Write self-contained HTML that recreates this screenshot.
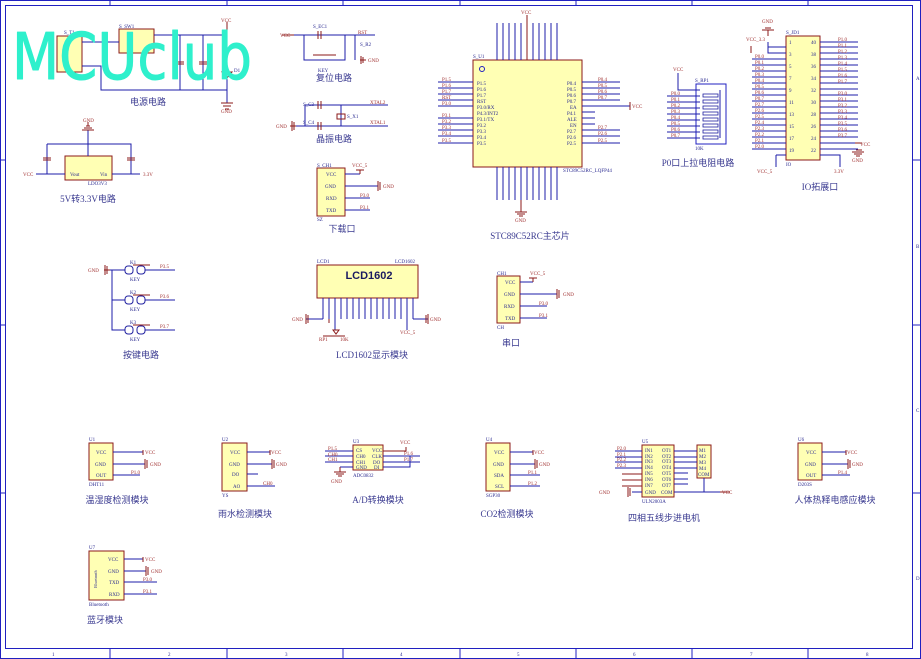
<!DOCTYPE html>
<html><head><meta charset="utf-8"><style>
html,body{margin:0;padding:0;background:#fff;}
svg{display:block;font-family:"Liberation Serif","Noto Serif CJK SC",serif;}
.w{stroke:#1c1ca8;stroke-width:1;fill:none}
.r{stroke:#8b1a1a;stroke-width:1;fill:none}
.b{stroke:#8b1a1a;stroke-width:1;fill:#ffffb4}
.n{fill:#a03030;font-size:5px}
.p{fill:#2a2a90;font-size:5px}
.t{fill:#3a3a90;font-size:9px;font-family:"Liberation Serif","Noto Sans CJK SC",sans-serif}
.f{stroke:#2020c0;stroke-width:1;fill:none}
</style></head><body>
<svg width="921" height="659" viewBox="0 0 921 659">
<!-- frame -->
<rect x="0.5" y="0.5" width="920" height="658" fill="none" stroke="#2020c0"/>
<rect x="5.5" y="5.5" width="907" height="643" class="f"/>
<path class="f" d="M110 0V5M227 0V5M343 0V5M460 0V5M576 0V5M692 0V5M808 0V5M110 649V659M227 649V659M343 649V659M460 649V659M576 649V659M692 649V659M808 649V659M0 160H5M0 325H5M0 493H5M913 160H921M913 325H921M913 493H921"/>
<g class="p" font-size="5"><text x="916" y="80">A</text><text x="916" y="248">B</text><text x="916" y="412">C</text><text x="916" y="580">D</text>
<text x="52" y="656">1</text><text x="168" y="656">2</text><text x="285" y="656">3</text><text x="400" y="656">4</text><text x="517" y="656">5</text><text x="633" y="656">6</text><text x="750" y="656">7</text><text x="866" y="656">8</text></g>

<!-- power circuit -->
<rect x="57" y="36" width="25" height="36" class="b"/>
<rect x="119" y="29" width="35" height="24" class="b"/>
<path class="w" d="M82 42H119M82 66H101V90H227M154 35H227V90M180 35V90M203 35V90M227 62V103"/>
<path class="r" d="M176 62H184M176 64H184M199 62H207M199 64H207M221 103H233M223 106H231M225 109H229M227 22V35"/>
<path class="r" d="M222 72L232 72L227 78Z"/>
<text x="221" y="22" class="n">VCC</text><text x="221" y="113" class="n">GND</text>
<text x="119" y="28" class="p">S_SW1</text><text x="64" y="34" class="p">S_T1</text><text x="234" y="72" class="p">D1</text>
<text x="148" y="105" class="t" text-anchor="middle">电源电路</text>

<!-- reset -->
<path class="w" d="M294 35H375M304 35V60H345V35M355 35V60"/>
<path class="r" d="M282 35H294M318 31V39M321 31V39M360 60H366M361 56V64M363 57V63"/>
<path class="r" d="M313 55H336"/>
<text x="280" y="37" class="n">VCC</text><text x="358" y="34" class="n">RST</text><text x="368" y="62" class="n">GND</text>
<text x="313" y="28" class="p">S_EC1</text><text x="360" y="46" class="p">S_R2</text><text x="318" y="72" class="p">KEY</text>
<text x="334" y="81" class="t" text-anchor="middle">复位电路</text>

<!-- crystal -->
<path class="w" d="M305 105H388M295 126H388M305 105V126M341 105V126"/>
<path class="r" d="M318 101V109M321 101V109M318 122V130M321 122V130M337 114H345V119H337Z M290 126H296M292 121V131M294 122V130"/>
<text x="370" y="104" class="n">XTAL2</text><text x="370" y="124" class="n">XTAL1</text><text x="276" y="128" class="n">GND</text>
<text x="303" y="106" class="p">S_C3</text><text x="303" y="124" class="p">S_C4</text><text x="347" y="118" class="p">S_X1</text>
<text x="334" y="142" class="t" text-anchor="middle">晶振电路</text>

<!-- LDO -->
<rect x="65" y="156" width="47" height="24" class="b"/>
<path class="w" d="M47 144H131V174M47 144V174M88 130V156M36 174H65M112 174H140"/>
<path class="r" d="M82 130H94M84 128H92M86 126H90M88 122V126M43 158H51M43 160H51M127 158H135M127 160H135"/>
<text x="23" y="176" class="n">VCC</text><text x="143" y="176" class="n">3.3V</text><text x="83" y="122" class="n">GND</text>
<text x="70" y="176" class="p">Vout</text><text x="100" y="176" class="p">Vin</text><text x="88" y="185" class="p">LDO3V3</text>
<text x="88" y="202" class="t" text-anchor="middle">5V转3.3V电路</text>

<!-- download -->
<rect x="317" y="168" width="28" height="48" class="b"/>
<path class="w" d="M345 174H360M345 186H378M345 198H370M345 210H370"/>
<path class="r" d="M360 170V174M356 170H364M378 181V191M380 182V190"/>
<g class="p"><text x="326" y="176">VCC</text><text x="325" y="188">GND</text><text x="326" y="200">RXD</text><text x="326" y="212">TXD</text><text x="317" y="167">S_CH1</text><text x="317" y="221">SZ</text></g>
<g class="n"><text x="352" y="167">VCC_5</text><text x="383" y="188">GND</text><text x="360" y="197">P3.0</text><text x="360" y="209">P3.1</text></g>
<text x="342" y="232" class="t" text-anchor="middle">下载口</text>

<!-- MCU -->
<rect x="473" y="60" width="109" height="107" class="b"/>
<path class="w" d="M497 23V60M503 23V60M509 23V60M515 23V60M521 23V60M533 23V60M539 23V60M545 23V60M551 23V60M557 23V60
M497 167V200M503 167V200M509 167V200M515 167V200M521 167V200M527 167V200M533 167V200M539 167V200M545 167V200M551 167V200M557 167V200
M438 82H473M438 88H473M438 94H473M438 100H473M438 106H473M438 118H473M438 124H473M438 130H473M438 136H473M438 143H473
M582 82H620M582 88H620M582 94H620M582 100H620M582 106H630M582 130H620M582 136H620M582 143H620M582 112H595M582 118H595M582 124H595"/>
<path class="r" d="M527 15V60M521 200V212M515 212H527M517 214H525M519 216H523M630 102V110"/>
<text x="521" y="14" class="n">VCC</text><text x="515" y="222" class="n">GND</text><text x="632" y="108" class="n">VCC</text>
<g class="p"><text x="477" y="85">P1.5</text><text x="477" y="91">P1.6</text><text x="477" y="97">P1.7</text><text x="477" y="103">RST</text><text x="477" y="109">P3.0/RX</text><text x="477" y="115">P4.3/INT2</text><text x="477" y="121">P3.1/TX</text><text x="477" y="127">P3.2</text><text x="477" y="133">P3.3</text><text x="477" y="139">P3.4</text><text x="477" y="145">P3.5</text>
<text x="567" y="85">P0.4</text><text x="567" y="91">P0.5</text><text x="567" y="97">P0.6</text><text x="567" y="103">P0.7</text><text x="570" y="109">EA</text><text x="567" y="115">P4.1</text><text x="567" y="121">ALE</text><text x="570" y="127">EN</text><text x="567" y="133">P2.7</text><text x="567" y="139">P2.6</text><text x="567" y="145">P2.5</text>
<text x="473" y="58">S_U1</text><text x="563" y="172">STC89C52RC_LQFP44</text></g>
<g class="n"><text x="442" y="81">P1.5</text><text x="442" y="87">P1.6</text><text x="442" y="93">P1.7</text><text x="442" y="99">RST</text><text x="442" y="105">P3.0</text><text x="442" y="117">P3.1</text><text x="442" y="123">P3.2</text><text x="442" y="129">P3.3</text><text x="442" y="135">P3.4</text><text x="442" y="142">P3.5</text>
<text x="598" y="81">P0.4</text><text x="598" y="87">P0.5</text><text x="598" y="93">P0.6</text><text x="598" y="99">P0.7</text><text x="598" y="129">P2.7</text><text x="598" y="135">P2.6</text><text x="598" y="142">P2.5</text></g>
<circle cx="482" cy="69" r="2.5" fill="none" stroke="#2020c0"/>
<text x="530" y="239" class="t" text-anchor="middle">STC89C52RC主芯片</text>

<!-- RP1 -->
<rect x="696" y="84" width="30" height="60" fill="none" stroke="#2020c0"/>
<path class="w" d="M678 73V90H700M667 96H700M667 102H700M667 108H700M667 114H700M667 120H700M667 126H700M667 132H700M667 138H700M720 90V138"/>
<g fill="#fff" stroke="#2020a0" stroke-width="0.8"><rect x="703" y="94" width="15" height="3"/><rect x="703" y="100" width="15" height="3"/><rect x="703" y="106" width="15" height="3"/><rect x="703" y="112" width="15" height="3"/><rect x="703" y="118" width="15" height="3"/><rect x="703" y="124" width="15" height="3"/><rect x="703" y="130" width="15" height="3"/><rect x="703" y="136" width="15" height="3"/></g>
<text x="673" y="71" class="n">VCC</text><text x="695" y="82" class="p">S_RP1</text><text x="695" y="150" class="p">10K</text>
<g class="n"><text x="671" y="95">P0.0</text><text x="671" y="101">P0.1</text><text x="671" y="107">P0.2</text><text x="671" y="113">P0.3</text><text x="671" y="119">P0.4</text><text x="671" y="125">P0.5</text><text x="671" y="131">P0.6</text><text x="671" y="137">P0.7</text></g>
<text x="698" y="166" class="t" text-anchor="middle">P0口上拉电阻电路</text>

<!-- IO ext -->
<rect x="786" y="36" width="34" height="124" class="b"/>
<path class="w" d="M768 42V53H786M768 42V47H786M752 59H786M752 65H786M752 71H786M752 77H786M752 83H786M752 89H786M752 95H786M752 101H786M752 107H786M752 113H786M752 119H786M752 125H786M752 131H786M752 137H786M752 143H786M752 149H786M776 155H786M776 155V167
M820 42H858M820 47H858M820 53H858M820 59H858M820 65H858M820 71H858M820 77H858M820 83H858M820 89H858M820 95H858M820 101H858M820 107H858M820 113H858M820 119H858M820 125H858M820 131H858M820 137H858M820 143H858M820 149H858M820 155H840V167"/>
<path class="r" d="M768 30V36M762 30H774M765 28H771M751 46V53M855 143H862M856 150H862M852 152H864M854 154H862M856 156H860"/>
<text x="762" y="23" class="n">GND</text><text x="746" y="41" class="n">VCC_3.3</text><text x="757" y="173" class="n">VCC_5</text><text x="834" y="173" class="n">3.3V</text><text x="860" y="146" class="n">VCC</text><text x="852" y="162" class="n">GND</text>
<text x="786" y="34" class="p">S_JD1</text><text x="786" y="166" class="p">IO</text>
<g class="p" font-size="4.5"><text x="789" y="44">1</text><text x="789" y="56">3</text><text x="789" y="68">5</text><text x="789" y="80">7</text><text x="789" y="92">9</text><text x="789" y="104">11</text><text x="789" y="116">13</text><text x="789" y="128">15</text><text x="789" y="140">17</text><text x="789" y="152">19</text>
<text x="811" y="44">40</text><text x="811" y="56">38</text><text x="811" y="68">36</text><text x="811" y="80">34</text><text x="811" y="92">32</text><text x="811" y="104">30</text><text x="811" y="116">28</text><text x="811" y="128">26</text><text x="811" y="140">24</text><text x="811" y="152">22</text></g>
<g class="n"><text x="838" y="41">P1.0</text><text x="838" y="47">P1.1</text><text x="838" y="53">P1.2</text><text x="838" y="59">P1.3</text><text x="838" y="65">P1.4</text><text x="838" y="71">P1.5</text><text x="838" y="77">P1.6</text><text x="838" y="83">P1.7</text><text x="838" y="95">P3.0</text><text x="838" y="101">P3.1</text><text x="838" y="107">P3.2</text><text x="838" y="113">P3.3</text><text x="838" y="119">P3.4</text><text x="838" y="125">P3.5</text><text x="838" y="131">P3.6</text><text x="838" y="137">P3.7</text>
<text x="755" y="58">P0.0</text><text x="755" y="64">P0.1</text><text x="755" y="70">P0.2</text><text x="755" y="76">P0.3</text><text x="755" y="82">P0.4</text><text x="755" y="88">P0.5</text><text x="755" y="94">P0.6</text><text x="755" y="100">P0.7</text><text x="755" y="106">P2.7</text><text x="755" y="112">P2.6</text><text x="755" y="118">P2.5</text><text x="755" y="124">P2.4</text><text x="755" y="130">P2.3</text><text x="755" y="136">P2.2</text><text x="755" y="142">P2.1</text><text x="755" y="148">P2.0</text></g>
<text x="820" y="190" class="t" text-anchor="middle">IO拓展口</text>

<!-- keys -->
<path class="w" d="M110 270H125M112 270V330H125M112 300H125M145 270H175M145 300H175M145 330H175"/>
<path class="r" d="M104 270H110M105 265V275M107 266V274M133 265H150M133 295H150M133 325H150"/>
<g fill="none" stroke="#2020a0"><rect x="125" y="266" width="8" height="8" rx="3"/><rect x="137" y="266" width="8" height="8" rx="3"/><rect x="125" y="296" width="8" height="8" rx="3"/><rect x="137" y="296" width="8" height="8" rx="3"/><rect x="125" y="326" width="8" height="8" rx="3"/><rect x="137" y="326" width="8" height="8" rx="3"/></g>
<g class="n"><text x="88" y="272">GND</text><text x="160" y="268">P3.5</text><text x="160" y="298">P3.6</text><text x="160" y="328">P3.7</text></g>
<g class="p"><text x="130" y="264">K1</text><text x="130" y="281">KEY</text><text x="130" y="294">K2</text><text x="130" y="311">KEY</text><text x="130" y="324">K3</text><text x="130" y="341">KEY</text></g>
<text x="141" y="358" class="t" text-anchor="middle">按键电路</text>

<!-- LCD -->
<rect x="317" y="265" width="101" height="33" class="b"/>
<text x="369" y="279" font-family="Liberation Sans,sans-serif" font-weight="bold" font-size="11" fill="#1a1a60" text-anchor="middle">LCD1602</text>
<path class="w" d="M323 298V319M329 298V319M335 298V330M341 298V319M347 298V319M353 298V319M359 298V319M365 298V319M371 298V319M377 298V319M383 298V319M389 298V319M395 298V319M401 298V319M407 298V330M413 298V319M306 319H323M413 319H428"/>
<path class="r" d="M329 319V323M323 336H345M333 330H339L336 334ZM306 314V324M308 315V323M428 314V324M426 315V323"/>
<g class="n"><text x="292" y="321">GND</text><text x="430" y="321">GND</text><text x="400" y="334">VCC_5</text><text x="319" y="341">RP1</text><text x="340" y="341">10K</text></g>
<text x="317" y="263" class="p">LCD1</text><text x="395" y="263" class="p">LCD1602</text>
<text x="372" y="358" class="t" text-anchor="middle">LCD1602显示模块</text>

<!-- serial -->
<rect x="497" y="276" width="23" height="47" class="b"/>
<path class="w" d="M520 282H533M520 294H557M520 306H547M520 318H547"/>
<path class="r" d="M533 278V282M529 278H537M557 289V299M559 290V298"/>
<g class="p"><text x="505" y="284">VCC</text><text x="504" y="296">GND</text><text x="504" y="308">RXD</text><text x="505" y="320">TXD</text><text x="497" y="275">CH1</text><text x="497" y="329">CH</text></g>
<g class="n"><text x="530" y="275">VCC_5</text><text x="563" y="296">GND</text><text x="539" y="305">P3.0</text><text x="539" y="317">P3.1</text></g>
<text x="511" y="346" class="t" text-anchor="middle">串口</text>

<!-- U1 -->
<rect x="89" y="443" width="24" height="37" class="b"/>
<path class="w" d="M113 452H143M113 464H145M113 475H140"/>
<path class="r" d="M145 459V469M147 460V468M143 450V455"/>
<g class="p"><text x="96" y="454">VCC</text><text x="95" y="466">GND</text><text x="96" y="477">OUT</text><text x="89" y="441">U1</text><text x="89" y="486">DHT11</text></g>
<g class="n"><text x="145" y="454">VCC</text><text x="150" y="466">GND</text><text x="131" y="474">P1.0</text></g>
<text x="117" y="503" class="t" text-anchor="middle">温湿度检测模块</text>
<!-- U2 -->
<rect x="222" y="443" width="25" height="48" class="b"/>
<path class="w" d="M247 452H270M247 464H272M247 474H258M247 486H275"/>
<path class="r" d="M272 459V469M274 460V468M270 450V455"/>
<g class="p"><text x="230" y="454">VCC</text><text x="229" y="466">GND</text><text x="232" y="476">DO</text><text x="233" y="488">AO</text><text x="222" y="441">U2</text><text x="222" y="497">YS</text></g>
<g class="n"><text x="271" y="454">VCC</text><text x="276" y="466">GND</text><text x="263" y="485">CH0</text></g>
<text x="245" y="517" class="t" text-anchor="middle">雨水检测模块</text>
<!-- U3 -->
<rect x="353" y="445" width="30" height="25" class="b"/>
<path class="w" d="M325 451H353M325 456H353M325 462H353M340 467H353M383 456H420M383 462H420M383 467H410V456"/>
<path class="r" d="M383 451H406V447M340 467V472M334 472H346M336 474H344M338 476H342"/>
<g class="p" font-size="4.5"><text x="356" y="452">CS</text><text x="356" y="458">CH0</text><text x="356" y="464">CH1</text><text x="356" y="469">GND</text><text x="372" y="452">VCC</text><text x="372" y="458">CLK</text><text x="373" y="464">DO</text><text x="374" y="469">DI</text><text x="353" y="443">U3</text><text x="353" y="477">ADC0832</text></g>
<g class="n"><text x="328" y="450">P1.5</text><text x="328" y="456">CH0</text><text x="328" y="461">CH1</text><text x="400" y="444">VCC</text><text x="404" y="455">P1.6</text><text x="404" y="461">P1.7</text><text x="331" y="483">GND</text></g>
<text x="378" y="503" class="t" text-anchor="middle">A/D转换模块</text>
<!-- U4 -->
<rect x="486" y="443" width="24" height="48" class="b"/>
<path class="w" d="M510 452H533M510 464H535M510 475H540M510 486H540"/>
<path class="r" d="M535 459V469M537 460V468M533 450V455"/>
<g class="p"><text x="494" y="454">VCC</text><text x="493" y="466">GND</text><text x="494" y="477">SDA</text><text x="495" y="488">SCL</text><text x="486" y="441">U4</text><text x="486" y="497">SGP30</text></g>
<g class="n"><text x="534" y="454">VCC</text><text x="539" y="466">GND</text><text x="528" y="474">P1.1</text><text x="528" y="485">P1.2</text></g>
<text x="507" y="517" class="t" text-anchor="middle">CO2检测模块</text>
<!-- U5 -->
<rect x="642" y="445" width="32" height="52" class="b"/>
<rect x="697" y="445" width="14" height="33" class="b"/>
<path class="w" d="M615 451H642M615 457H642M615 462H642M615 468H642M632 492H642M674 451H697M674 457H697M674 462H697M674 468H697M674 473H688M674 479H688M674 484H688M674 492H720M704 478V492"/>
<path class="r" d="M720 492H730M628 487V497M630 488V496M622 474H642M622 480H642M622 486H642"/>
<g class="p" font-size="4.5"><text x="645" y="452">IN1</text><text x="645" y="458">IN2</text><text x="645" y="463">IN3</text><text x="645" y="469">IN4</text><text x="645" y="475">IN5</text><text x="645" y="481">IN6</text><text x="645" y="487">IN7</text><text x="645" y="494">GND</text><text x="662" y="452">OT1</text><text x="662" y="458">OT2</text><text x="662" y="463">OT3</text><text x="662" y="469">OT4</text><text x="662" y="475">OT5</text><text x="662" y="481">OT6</text><text x="662" y="487">OT7</text><text x="661" y="494">COM</text>
<text x="699" y="452">M1</text><text x="699" y="458">M2</text><text x="699" y="464">M3</text><text x="699" y="470">M4</text><text x="698" y="476">COM</text><text x="642" y="443">U5</text><text x="642" y="503">ULN2003A</text></g>
<g class="n"><text x="617" y="450">P2.0</text><text x="617" y="456">P2.1</text><text x="617" y="461">P2.2</text><text x="617" y="467">P2.3</text><text x="599" y="494">GND</text><text x="722" y="494">VCC</text></g>
<text x="664" y="521" class="t" text-anchor="middle">四相五线步进电机</text>
<!-- U6 -->
<rect x="798" y="443" width="24" height="37" class="b"/>
<path class="w" d="M822 452H846M822 464H848M822 475H850"/>
<path class="r" d="M848 459V469M850 460V468M846 450V455"/>
<g class="p"><text x="806" y="454">VCC</text><text x="805" y="466">GND</text><text x="806" y="477">OUT</text><text x="798" y="441">U6</text><text x="798" y="486">D203S</text></g>
<g class="n"><text x="847" y="454">VCC</text><text x="852" y="466">GND</text><text x="838" y="474">P1.4</text></g>
<text x="835" y="503" class="t" text-anchor="middle">人体热释电感应模块</text>
<!-- U7 -->
<rect x="89" y="551" width="35" height="49" class="b"/>
<path class="w" d="M124 559H143M124 571H146M124 582H157M124 594H157"/>
<path class="r" d="M146 566V576M148 567V575M143 557V562"/>
<g class="p"><text x="108" y="561">VCC</text><text x="108" y="573">GND</text><text x="109" y="584">TXD</text><text x="109" y="596">RXD</text><text x="89" y="549">U7</text><text x="89" y="606">Bluetooth</text>
<text x="97" y="588" font-size="4.5" transform="rotate(-90 97 588)">Bluetooth</text></g>
<g class="n"><text x="145" y="561">VCC</text><text x="151" y="573">GND</text><text x="143" y="581">P3.0</text><text x="143" y="593">P3.1</text></g>
<text x="105" y="623" class="t" text-anchor="middle">蓝牙模块</text>

<!-- watermark -->
<text x="12" y="79" font-family="DejaVu Sans,Liberation Sans,sans-serif" font-size="64" fill="#2ef0cc" stroke="#2ef0cc" stroke-width="1" stroke-linejoin="round" textLength="240" lengthAdjust="spacingAndGlyphs">MCUclub</text>
</svg>
</body></html>
